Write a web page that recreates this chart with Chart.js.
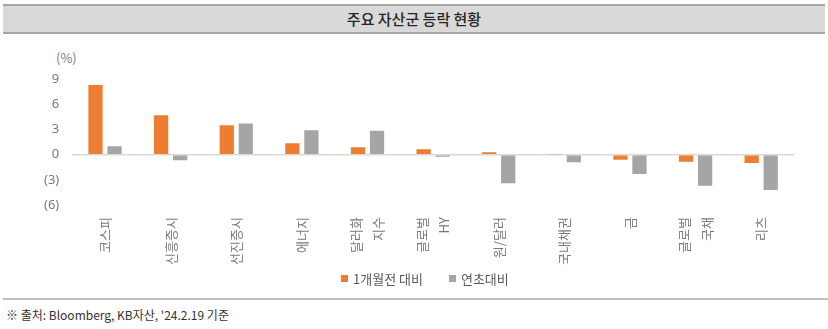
<!DOCTYPE html>
<html>
<head>
<meta charset="utf-8">
<script src="https://cdn.jsdelivr.net/npm/chart.js@4"></script>
<style>
  body { margin: 0; background: #fff; font-family: "Noto Sans CJK KR", "Noto Sans", sans-serif; }
  #wrap { position: relative; width: 828px; height: 329px; overflow: hidden; }
  #title {
    position: absolute; left: 3px; top: 4px; width: 822px; height: 26px;
    background: #d9d9d9; border-top: 2px solid #a6a6a6; border-bottom: 2px solid #a6a6a6;
    text-align: center; line-height: 26px; font-size: 15px; font-weight: 500; color: #262626;
  }
  #unit { position: absolute; left: 56px; top: 48px; font-size: 13px; color: #7a7a7a; }
  #chartBox { position: absolute; left: 0; top: 40px; width: 828px; height: 237px; }
  #legend {
    position: absolute; left: 341px; top: 269px; height: 18px;
    font-size: 13px; color: #595959; display: flex; align-items: center;
  }
  #legend span.item { display: flex; align-items: center; margin-right: 26px; }
  #legend i { display: inline-block; width: 7px; height: 7px; margin-right: 5px; }
  #foot {
    position: absolute; left: 3px; top: 298px; width: 822px; border-top: 2px solid #bfbfbf;
    font-size: 12px; color: #333; padding: 6px 0 0 3px;
  }
</style>
</head>
<body>
<div id="wrap">
  <div id="title">주요 자산군 등락 현황</div>
  <div id="unit">(%)</div>
  <div id="chartBox"><canvas id="assetChart"></canvas></div>
  <div id="legend"></div>
  <div id="foot">※ 출처: Bloomberg, KB자산, '24.2.19 기준</div>
</div>
<script>
// 자산군별 등락률 (%)
const categories = ["코스피", "신흥증시", "선진증시", "에너지", ["달러화", "지수"], ["글로벌", "HY"],
  "원/달러", "국내채권", "금", ["글로벌", "국채"], "리츠"];
const oneMonth = [8.3, 4.7, 3.5, 1.35, 0.9, 0.65, 0.3, 0.05, -0.6, -0.85, -1.0];
const ytd = [1.0, -0.65, 3.7, 2.9, 2.85, -0.25, -3.4, -0.9, -2.3, -3.7, -4.2];
const yTicks = [9, 6, 3, 0, -3, -6];

const tickColor = "#7a7a7a";
const xFontSize = 13;
const xLineHeight = 1.7;

// 두 줄 라벨은 틱 기준으로 가운데 정렬
const centerMultiline = {
  id: "centerMultiline",
  beforeDraw(chart) {
    const scale = chart.scales.x;
    const items = scale.getLabelItems();
    const lh = xFontSize * xLineHeight;
    items.forEach(item => {
      if (Array.isArray(item.label) && !item._shifted) {
        item.options.translation[0] -= (item.label.length - 1) * lh / 2;
        item._shifted = true;
      }
    });
  }
};

const chart = new Chart(document.getElementById("assetChart"), {
  type: "bar",
  data: {
    labels: categories,
    datasets: [
      { label: "1개월전 대비", data: oneMonth, backgroundColor: "#ed7d31" },
      { label: "연초대비", data: ytd, backgroundColor: "#a5a5a5" }
    ]
  },
  options: {
    responsive: true,
    maintainAspectRatio: false,
    animation: false,
    layout: { padding: { top: 39, right: 34, left: 31, bottom: 0 } },
    datasets: { bar: { barPercentage: 0.75, categoryPercentage: 0.58 } },
    plugins: {
      tooltip: { enabled: false },
      legend: { display: false }
    },
    scales: {
      x: {
        grid: { display: false, drawTicks: false },
        border: { display: false },
        ticks: {
          minRotation: 90, maxRotation: 90, padding: 12,
          color: tickColor,
          font: { family: "Noto Sans CJK KR", size: xFontSize, lineHeight: xLineHeight }
        }
      },
      y: {
        min: -6, max: 9,
        afterBuildTicks: axis => { axis.ticks = yTicks.map(v => ({ value: v })); },
        grid: {
          drawTicks: false,
          color: c => (c.tick && c.tick.value === 0 ? "#d9d9d9" : "transparent"),
          lineWidth: 1.5
        },
        border: { display: false },
        ticks: {
          padding: 13,
          color: tickColor,
          font: { family: "Noto Sans", size: 13 },
          callback: v => (v < 0 ? "(" + (-v) + ")" : v)
        }
      }
    }
  },
  plugins: [centerMultiline]
});

// 범례
const legendEl = document.getElementById("legend");
chart.data.datasets.forEach(ds => {
  const item = document.createElement("span");
  item.className = "item";
  item.innerHTML = `<i style="background:${ds.backgroundColor}"></i>${ds.label}`;
  legendEl.appendChild(item);
});
</script>
</body>
</html>
